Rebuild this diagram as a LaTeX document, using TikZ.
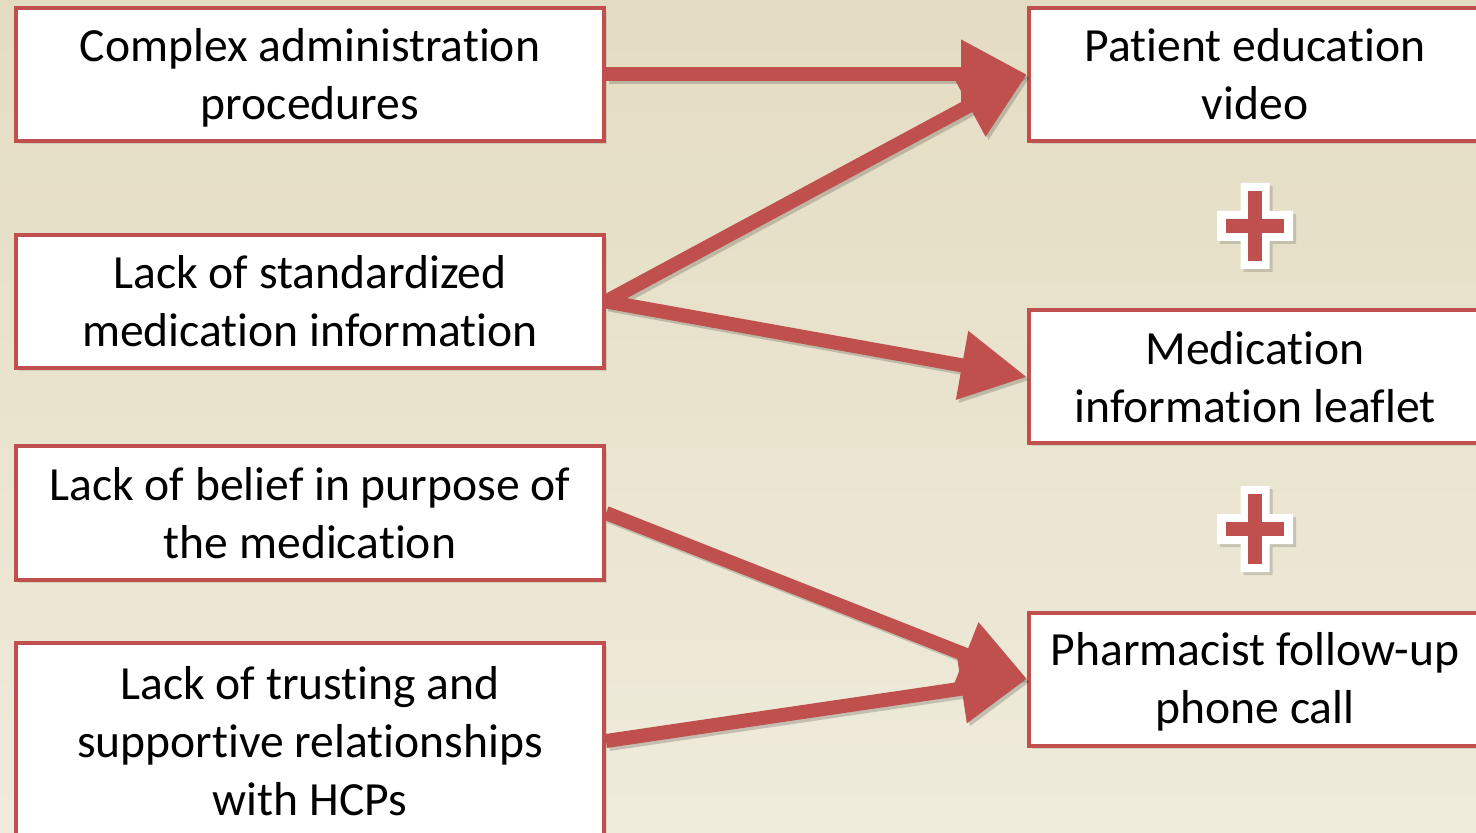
\documentclass[tikz,border=0pt]{standalone}
\usepackage{fontspec}
\setmainfont[RawFeature=-liga]{Carlito}
\usetikzlibrary{arrows.meta,shadows}
\definecolor{accred}{RGB}{192,80,77}
\definecolor{bgtop}{RGB}{228,220,194}
\definecolor{bgbot}{RGB}{239,235,219}
\newcommand\topstrut{\rule{0pt}{19.5pt}}
\tikzset{
  box/.style={draw=accred, line width=2pt, fill=white, minimum height=66.5pt,
    align=center, inner sep=0pt, font=\fontsize{23.8}{29}\selectfont,
    drop shadow={opacity=0.22, shadow xshift=1.5pt, shadow yshift=-1.5pt}},
  leftbox/.style={box, minimum width=294pt},
  rightbox/.style={box, minimum width=226pt},
  conn/.style={draw=accred, line width=7pt, -{Triangle[length=33pt,width=33pt]}},
  connshadow/.style={draw=black, opacity=0.18, line width=7pt, -{Triangle[length=33pt,width=33pt]},
    transform canvas={shift={(1.5pt,-1.5pt)}}},
  pics/plussign/.style={code={
    \fill[black, opacity=0.15, xshift=1.5pt, yshift=-1.5pt]
      (-14.5,-43) -- (14.5,-43) -- (14.5,-15) -- (38,-15) -- (38,15) -- (14.5,15) -- (14.5,43)
      -- (-14.5,43) -- (-14.5,15) -- (-38,15) -- (-38,-15) -- (-14.5,-15) -- cycle;
    \fill[white]
      (-14.5,-43) -- (14.5,-43) -- (14.5,-15) -- (38,-15) -- (38,15) -- (14.5,15) -- (14.5,43)
      -- (-14.5,43) -- (-14.5,15) -- (-38,15) -- (-38,-15) -- (-14.5,-15) -- cycle;
    \fill[accred] (-7,-35) rectangle (7,35);
    \fill[accred] (-29,-7) rectangle (29,7);
  }}
}
\begin{document}
\begin{tikzpicture}[x=0.5pt,y=-0.5pt]
\useasboundingbox (0,0) rectangle (1476,833);
\clip (0,0) rectangle (1476,833);
\shade[top color=bgtop, bottom color=bgbot] (0,0) rectangle (1476,833);

\node[leftbox] (L1) at (310,74.5) {\topstrut Complex administration\\procedures};
\node[leftbox] (L2) at (310,301.5) {Lack of standardized\\medication information};
\node[leftbox] (L3) at (310,513) {Lack of belief in purpose of\\the medication};
\node[leftbox, minimum height=98pt] (L4) at (310,741) {Lack of trusting and\\supportive relationships\\with HCPs};

\node[rightbox] (R1) at (1255,74.5) {Patient education\\video};
\node[rightbox] (R2) at (1255,377) {Medication\\information leaflet};
\node[rightbox] (R3) at (1255,679) {\topstrut Pharmacist follow-up\\phone call};

\pic at (1255,226) {plussign};
\pic at (1255,529) {plussign};

\draw[connshadow] (L1.east) -- (R1.west);
\draw[connshadow] (L2.east) -- (R1.west);
\draw[connshadow] (L2.east) -- (R2.west);
\draw[connshadow] (L3.east) -- (R3.west);
\draw[connshadow] (L4.east) -- (R3.west);

\draw[conn] (L1.east) -- (R1.west);
\draw[conn] (L2.east) -- (R1.west);
\draw[conn] (L2.east) -- (R2.west);
\draw[conn] (L3.east) -- (R3.west);
\draw[conn] (L4.east) -- (R3.west);
\end{tikzpicture}
\end{document}
